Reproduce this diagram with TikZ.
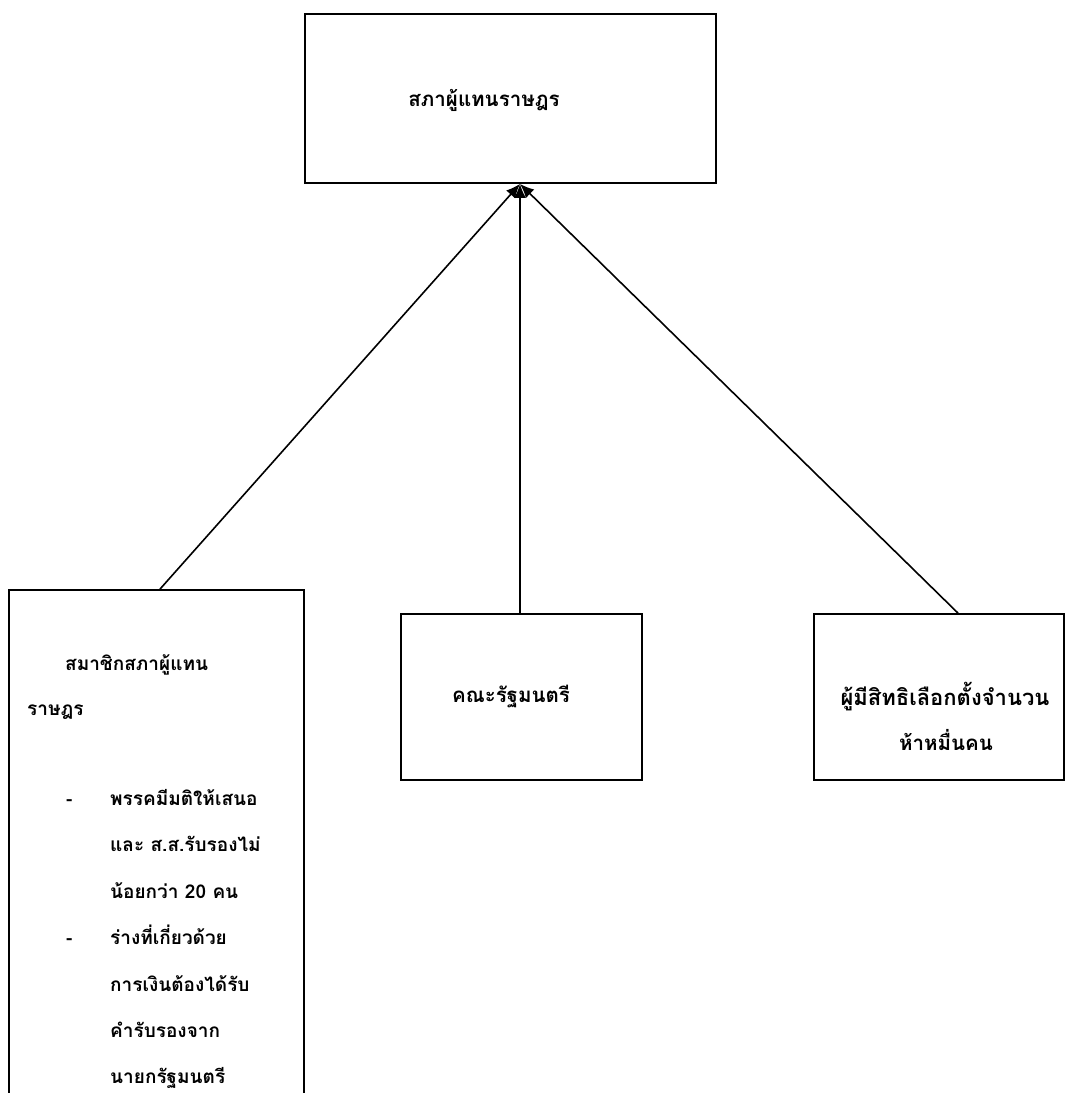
\documentclass[tikz,border=0pt]{standalone}
\usepackage{fontspec}
\newfontfamily\thaifont[Script=Thai]{Loma}
\usetikzlibrary{arrows.meta}
\begin{document}
\begin{tikzpicture}[x=1pt,y=-1pt,
  box/.style={draw=black,line width=1.8pt,rectangle,inner sep=0pt},
  conn/.style={line width=1.6pt,-{Latex[length=14pt,width=12pt]}},
  lbl/.style={font=\thaifont\bfseries\fontsize{19}{22}\selectfont,inner sep=0pt},
  big/.style={font=\thaifont\bfseries\fontsize{20.5}{24}\selectfont,inner sep=0pt},
  line/.style={lbl,anchor=base west}]
\useasboundingbox (0,0) rectangle (1074,1093);
\clip (0,0) rectangle (1074,1093);
\node[box,minimum width=411pt,minimum height=169pt] (T) at (510.5,98.5) {};
\node[big] (Tt) at (484,100) {สภาผู้แทนราษฎร};
\node[box,minimum width=295pt,minimum height=520pt] (L) at (156.5,850) {};
\node[box,minimum width=241pt,minimum height=166pt] (M) at (521.5,697) {};
\node[big] (Mt) at (511,697) {คณะรัฐมนตรี};
\node[box,minimum width=250pt,minimum height=166pt] (R) at (939,697) {};
\node[big,font=\thaifont\bfseries\fontsize{22}{24}\selectfont] (Rt1) at (945,697) {ผู้มีสิทธิเลือกตั้งจำนวน};
\node[big] (Rt2) at (946,740) {ห้าหมื่นคน};
\node[line] (l1) at (65,670) {สมาชิกสภาผู้แทน};
\node[line] (l2) at (27,715) {ราษฎร};
\node[line] (d1) at (66,805) {-};
\node[line] (l3) at (110,805) {พรรคมีมติให้เสนอ};
\node[line] (l4) at (110,851) {และ ส.ส.รับรองไม่};
\node[line] (l5) at (110,898) {น้อยกว่า 20 คน};
\node[line] (d2) at (66,944) {-};
\node[line] (l6) at (110,944) {ร่างที่เกี่ยวด้วย};
\node[line] (l7) at (110,991) {การเงินต้องได้รับ};
\node[line] (l8) at (110,1037) {คำรับรองจาก};
\node[line] (l9) at (110,1083) {นายกรัฐมนตรี};
\draw[conn] (L.north -| 160,0) -- (T.south -| 520,0);
\draw[conn] (M.north -| 520,0) -- (T.south -| 520,0);
\draw[conn] (R.north -| 958,0) -- (T.south -| 520,0);
\end{tikzpicture}
\end{document}
